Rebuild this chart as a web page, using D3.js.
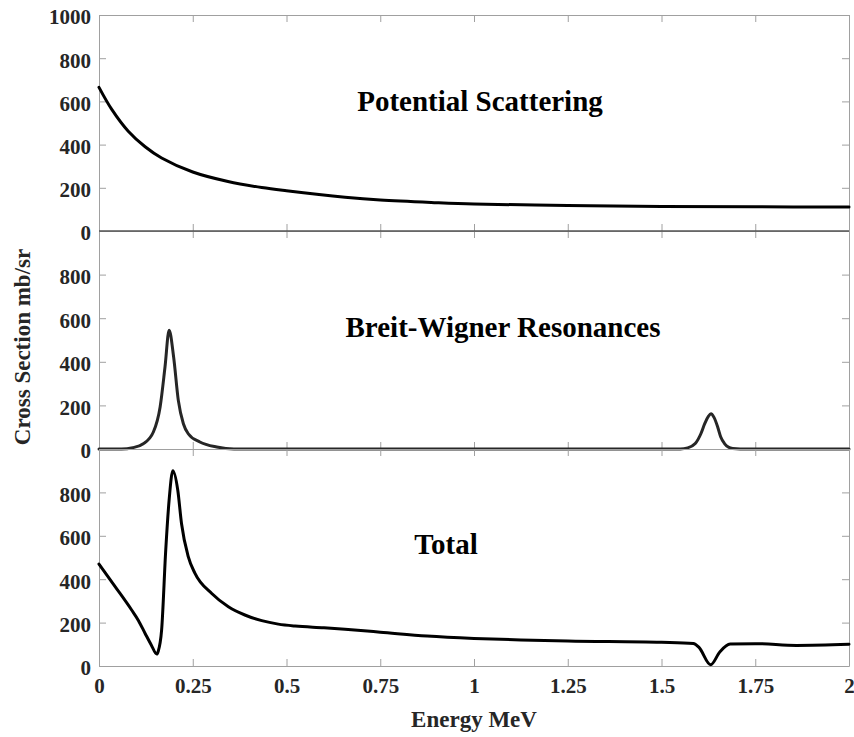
<!DOCTYPE html>
<html>
<head>
<meta charset="utf-8">
<script src="https://cdn.jsdelivr.net/npm/d3@7"></script>
<style>
  html, body { margin: 0; padding: 0; background: #fff; }
  svg { display: block; }
</style>
</head>
<body>
<script>
// ---- Data ----
const xTicks = [0, 0.25, 0.5, 0.75, 1, 1.25, 1.5, 1.75, 2];
const yTicksTop = [0, 200, 400, 600, 800, 1000];
const yTicksLower = [0, 200, 400, 600, 800];

const energyPot = [0, 0.034, 0.078, 0.123, 0.167, 0.25, 0.344, 0.434, 0.5, 0.656, 0.75, 0.9, 1.0, 1.25, 1.5, 1.75, 2.0];
const potential = [665, 563, 462, 390, 338, 273, 229, 201, 186, 156, 143, 131, 125, 118, 114, 112, 111];

const energyBW = [0, 0.06, 0.09, 0.118, 0.145, 0.163, 0.176, 0.187, 0.199, 0.2115, 0.225, 0.238, 0.269, 0.314, 0.36, 1.55, 1.57, 1.59, 1.605, 1.615, 1.625, 1.632, 1.64, 1.65, 1.658, 1.668, 1.678, 1.69, 1.71, 2.0];
const breitWigner = [0, 0, 6, 24, 78, 193, 376, 545, 422, 223, 116, 70, 32, 9, 0, 0, 5, 25, 70, 115, 150, 162, 145, 100, 55, 25, 9, 2, 0, 0];

const energyTot = [0, 0.043, 0.087, 0.105, 0.123, 0.14, 0.154, 0.158, 0.167, 0.178, 0.187, 0.197, 0.21, 0.22, 0.238, 0.256, 0.3, 0.345, 0.389, 0.434, 0.478, 0.523, 0.6, 0.656, 0.75, 0.875, 1.0, 1.125, 1.25, 1.5, 1.585, 1.600, 1.631, 1.656, 1.683, 1.75, 1.86, 2.0];
const total = [470, 366, 258, 210, 150, 95, 55, 68, 166, 535, 765, 900, 811, 657, 504, 427, 335, 273, 235, 209, 193, 184, 176, 169, 156, 138, 127, 120, 115, 109, 104, 86, 6, 66, 101, 103, 95, 100];

const panelTitles = ["Potential Scattering", "Breit-Wigner Resonances", "Total"];
const xLabel = "Energy MeV";
const yLabel = "Cross Section mb/sr";

// ---- Layout ----
const W = 854, H = 737;
const left = 99, right = 849;
const panels = [
  { top: 15, bottom: 231, ticks: yTicksTop, ex: energyPot, vals: potential, color: "#000", title: panelTitles[0], tx: 480, ty: 111, curve: d3.curveCatmullRom.alpha(0.5) },
  { top: 231, bottom: 449, ticks: yTicksLower, ex: energyBW, vals: breitWigner, color: "#262626", title: panelTitles[1], tx: 503, ty: 337, curve: d3.curveMonotoneX },
  { top: 449, bottom: 666, ticks: yTicksLower, ex: energyTot, vals: total, color: "#000", title: panelTitles[2], tx: 446, ty: 554, curve: d3.curveMonotoneX }
];

const svg = d3.select("body").append("svg").attr("width", W).attr("height", H);
const x = d3.scaleLinear().domain([0, 2]).range([left, right]);
const fontFam = "'Liberation Serif', 'Times New Roman', serif";
const frameColor = "#a0a0a0";

panels.forEach((p, i) => {
  const y = d3.scaleLinear().domain([0, 1000]).range([p.bottom, p.top]);
  const g = svg.append("g");

  // left axis with labels
  const la = g.append("g").attr("transform", `translate(${left},0)`)
    .call(d3.axisLeft(y).tickValues(p.ticks).tickSize(-7).tickSizeOuter(0).tickPadding(8).tickFormat(d3.format("d")));
  la.selectAll("text").attr("dy", "0.42em");

  // right axis
  g.append("g").attr("transform", `translate(${right},0)`)
    .call(d3.axisRight(y).tickValues(p.ticks).tickSize(-7).tickSizeOuter(0).tickFormat(""));

  // top axis (ticks inward)
  g.append("g").attr("transform", `translate(0,${p.top})`)
    .call(d3.axisTop(x).tickValues(xTicks).tickSize(-7).tickSizeOuter(0).tickFormat(""));

  // bottom axis
  g.append("g").attr("transform", `translate(0,${p.bottom})`)
    .call(d3.axisBottom(x).tickValues(xTicks).tickSize(-7).tickSizeOuter(0).tickPadding(12)
      .tickFormat(i === 2 ? (d => String(d)) : ""));

  g.selectAll(".domain, .tick line").attr("stroke", frameColor).attr("stroke-width", 1);
  g.selectAll(".tick text")
    .attr("font-family", fontFam).attr("font-weight", "bold").attr("font-size", 21).attr("fill", "#262626");

  // curve
  const line = d3.line()
    .x((d, k) => x(p.ex[k]))
    .y(d => y(d))
    .curve(p.curve);
  g.append("path").datum(p.vals)
    .attr("d", line)
    .attr("fill", "none")
    .attr("stroke", p.color)
    .attr("stroke-width", 3)
    .attr("stroke-linejoin", "round")
    .attr("stroke-linecap", "round");

  // title
  g.append("text").attr("x", p.tx).attr("y", p.ty)
    .attr("text-anchor", "middle")
    .attr("font-family", fontFam).attr("font-weight", "bold").attr("font-size", 29)
    .attr("fill", "#000").text(p.title);
});

// darker separator line between the top and middle panels
svg.append("line").attr("x1", left).attr("x2", right).attr("y1", 231).attr("y2", 231)
  .attr("stroke", "#555").attr("stroke-width", 1.5);

// axis titles
svg.append("text").attr("x", 474).attr("y", 727).attr("text-anchor", "middle")
  .attr("font-family", fontFam).attr("font-weight", "bold").attr("font-size", 23)
  .attr("fill", "#262626").text(xLabel);

svg.append("text").attr("transform", "translate(30,347) rotate(-90)").attr("text-anchor", "middle")
  .attr("font-family", fontFam).attr("font-weight", "bold").attr("font-size", 23)
  .attr("fill", "#262626").text(yLabel);
</script>
</body>
</html>
